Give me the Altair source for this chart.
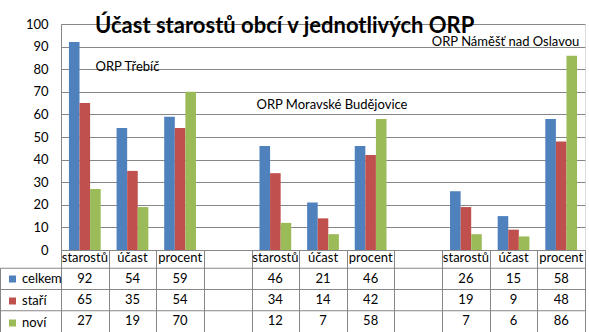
import altair as alt
import pandas as pd

# ---- data ----
cat_names = ["starostů", "účast", "procent", "", "starostů", "účast", "procent", "", "starostů", "účast", "procent"]
series_names = ["celkem", "staří", "noví"]
celkem = [92, 54, 59, None, 46, 21, 46, None, 26, 15, 58]
stari = [65, 35, 54, None, 34, 14, 42, None, 19, 9, 48]
novi = [27, 19, 70, None, 12, 7, 58, None, 7, 6, 86]
ann_texts = ["ORP Třebíč", "ORP Moravské Budějovice", "ORP Náměšť nad Oslavou"]
ann_cat = [1, 5, 9]
ann_val = [81, 64, 92]
title_text = "Účast starostů obcí v  jednotlivých ORP"

# ---- styles ----
colors = ["#4F81BD", "#C0504D", "#9BBB59"]
ann_dx = [-5, 9, -8]
FONT = "Lato"
GRID = "#868686"
W, H = 524, 226

keys = [f"k{i}" for i in range(len(cat_names))]
rows = ["cat"] + series_names

bar_recs, table_recs = [], []
for k, name in zip(keys, cat_names):
    table_recs.append({"key": k, "row": "cat", "text": name})
for s, vals in zip(series_names, [celkem, stari, novi]):
    for k, v in zip(keys, vals):
        table_recs.append({"key": k, "row": s, "text": "" if v is None else str(v)})
        if v is not None:
            bar_recs.append({"key": k, "series": s, "value": v})
bars_df = pd.DataFrame(bar_recs)
table_df = pd.DataFrame(table_recs)

x_scale = alt.Scale(domain=keys, paddingInner=0, paddingOuter=0)
x_axis = alt.Axis(title=None, labels=False, tickBand="extent", tickSize=82, ticks=True,
                  tickColor=GRID, domain=True, domainColor=GRID, grid=False)
y_dom = alt.Scale(domain=[0, 100], nice=False)
row_scale = alt.Scale(domain=rows, range=[223, 308], paddingInner=0, paddingOuter=0)

bars = alt.Chart(bars_df).mark_bar().encode(
    x=alt.X("key:N", scale=x_scale, axis=x_axis),
    xOffset=alt.XOffset("series:N", scale=alt.Scale(domain=series_names, paddingInner=0, paddingOuter=0.75)),
    y=alt.Y("value:Q", scale=y_dom,
            axis=alt.Axis(title=None, values=list(range(0, 101, 10)), grid=True, gridColor=GRID,
                          domainColor=GRID, ticks=False, labelPadding=13,
                          labelFont=FONT, labelFontSize=13, labelColor="black")),
    color=alt.Color("series:N", scale=alt.Scale(domain=series_names, range=colors),
                    legend=alt.Legend(orient="none", legendX=-55, legendY=248.5, title=None,
                                      symbolType="square", symbolSize=49, symbolStrokeWidth=0,
                                      rowPadding=8, labelOffset=3, padding=0,
                                      labelFont=FONT, labelFontSize=13, labelColor="black")),
)

table_text = alt.Chart(table_df).mark_text(font=FONT, fontSize=13, color="black", baseline="middle").encode(
    x=alt.X("key:N", scale=x_scale, axis=x_axis),
    y=alt.Y("row:N", scale=row_scale, axis=None),
    text="text:N",
)

line_df = pd.DataFrame({"row": series_names})
hlines = alt.Chart(line_df).mark_rule(color=GRID).encode(
    y=alt.Y("row:N", scale=row_scale, axis=None, bandPosition=0),
    x=alt.value(-61),
    x2=alt.value(W),
)
vline = alt.Chart(pd.DataFrame({"row": ["celkem"]})).mark_rule(color=GRID).encode(
    y=alt.Y("row:N", scale=row_scale, axis=None, bandPosition=0),
    y2=alt.value(308),
    x=alt.value(-60.5),
)

ann_layers = []
for t, c, v, dx in zip(ann_texts, ann_cat, ann_val, ann_dx):
    d = pd.DataFrame({"key": [keys[c]], "value": [v], "text": [t]})
    ann_layers.append(
        alt.Chart(d).mark_text(font=FONT, fontSize=13, color="black", baseline="middle", dx=dx).encode(
            x=alt.X("key:N", scale=x_scale, axis=x_axis),
            y=alt.Y("value:Q", scale=y_dom, axis=None),
            text="text:N",
        )
    )

chart = alt.layer(bars, table_text, hlines, vline, *ann_layers).resolve_scale(
    y="independent"
).properties(
    width=W,
    height=H,
    padding={"left": 61, "top": 24, "right": 4, "bottom": 82},
    autosize=alt.AutoSizeParams(type="none"),
    title=alt.TitleParams(title_text, anchor="start", frame="group", font=FONT, fontSize=22,
                          fontWeight="bold", color="black", offset=0, dx=34, dy=37,
                          baseline="alphabetic"),
).configure_view(stroke=None).configure(background="white")

chart.save("out.html", embed_options={"renderer": "svg", "actions": False})
